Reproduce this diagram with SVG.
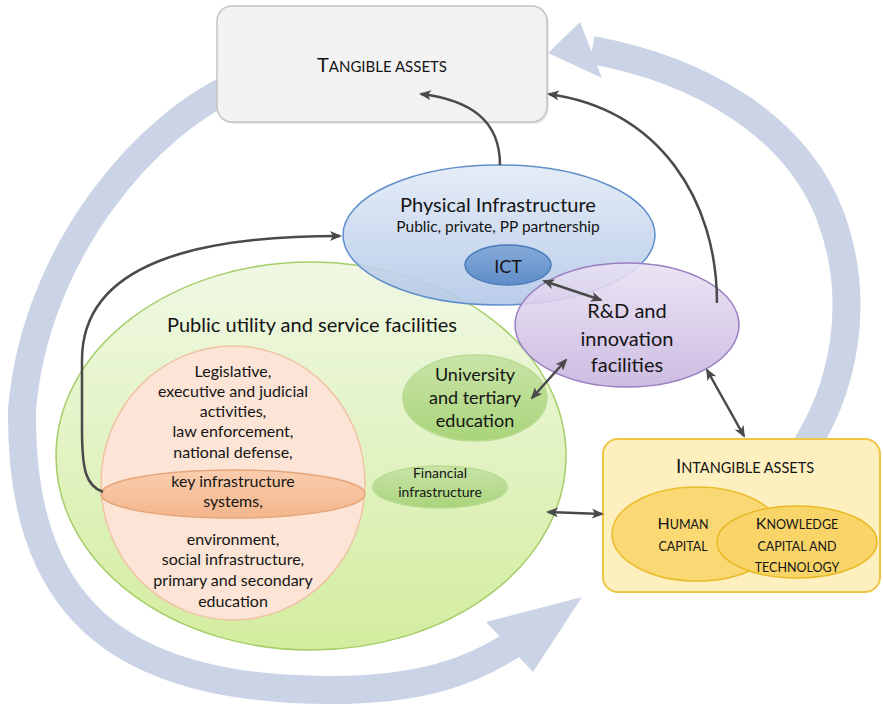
<svg xmlns="http://www.w3.org/2000/svg" width="883" height="708" viewBox="0 0 883 708">
<defs>
<style>
text{font-family:Lato,"Open Sans","Liberation Sans",sans-serif;fill:#151515;text-anchor:middle}
.band{fill:none;stroke:#cbd4e7;stroke-width:28}
.bandhead{fill:#cbd4e7}
.conn{fill:none;stroke:#4a4a4a;stroke-width:2.5}
</style>
<linearGradient id="gPhys" x1="0" y1="0" x2="0" y2="1"><stop offset="0" stop-color="#e2eaf6"/><stop offset="1" stop-color="#b3c8e7"/></linearGradient>
<linearGradient id="gICT" x1="0" y1="0" x2="0" y2="1"><stop offset="0" stop-color="#86abd9"/><stop offset="1" stop-color="#5f8dc9"/></linearGradient>
<linearGradient id="gRD" x1="0" y1="0" x2="0" y2="1"><stop offset="0" stop-color="#e9e1f3"/><stop offset="1" stop-color="#c6b3de"/></linearGradient>
<linearGradient id="gGreen" x1="0" y1="0" x2="0" y2="1"><stop offset="0" stop-color="#f0f8e4"/><stop offset="1" stop-color="#d3ed9f"/></linearGradient>
<linearGradient id="gUni" x1="0" y1="0" x2="0" y2="1"><stop offset="0" stop-color="#c9e4a8"/><stop offset="1" stop-color="#a9d47a"/></linearGradient>
<linearGradient id="gKey" x1="0" y1="0" x2="0" y2="1"><stop offset="0" stop-color="#f9cdae"/><stop offset="1" stop-color="#f4b68c"/></linearGradient>
<marker id="arr" viewBox="0 0 12 10" refX="10" refY="5" markerWidth="12" markerHeight="10" markerUnits="userSpaceOnUse" orient="auto-start-reverse">
<path d="M0,0 L12,5 L0,10 L3,5 z" fill="#4a4a4a"/>
</marker>
</defs>

<g id="cycle">
<path class="band" d="M 240 84 C 150 120, 35 250, 22 410 C 20 600, 110 690, 330 690 C 420 690, 470 672, 512 645"/>
<polygon class="bandhead" points="582,597 486,622 533,672"/>
<path class="band" d="M 800 455 C 845 390, 862 300, 830 215 C 795 125, 700 70, 592 50"/>
<polygon class="bandhead" points="548,53 580,22 602,78"/>
</g>

<g id="tangible">
<rect x="219" y="8" width="330" height="116" rx="15" fill="#dcdcdc" opacity="0.6"/>
<rect x="217" y="6" width="330" height="116" rx="15" fill="#f2f2f2" stroke="#c4c4c4" stroke-width="1.5"/>
<text x="382" y="72" font-size="20">T<tspan font-size="15">ANGIBLE ASSETS</tspan></text>
</g>

<g id="intangible">
<rect x="603" y="439" width="277" height="153" rx="15" fill="#feefbf" stroke="#f0c445" stroke-width="2"/>
<text x="745" y="473" font-size="19">I<tspan font-size="14.5">NTANGIBLE ASSETS</tspan></text>
<g id="human">
<ellipse cx="697" cy="534" rx="85" ry="47" fill="#fad873" stroke="#ebbd2c" stroke-width="1.5"/>
<text x="683" y="529" font-size="16">H<tspan font-size="12.5">UMAN</tspan></text>
<text x="683" y="551" font-size="12.5">CAPITAL</text>
</g>
<g id="knowledge">
<ellipse cx="797" cy="542" rx="80" ry="36" fill="#f9d468" stroke="#e8b923" stroke-width="1.5"/>
<text x="797" y="529" font-size="16">K<tspan font-size="12.5">NOWLEDGE</tspan></text>
<text x="797" y="551" font-size="12.5">CAPITAL AND</text>
<text x="797" y="572" font-size="12.5">TECHNOLOGY</text>
</g>
</g>

<g id="public-utility">
<ellipse cx="311" cy="456" rx="255" ry="194" fill="url(#gGreen)" stroke="#a5ce69" stroke-width="1.5"/>
<text x="312" y="332" font-size="20">Public utility and service facilities</text>
</g>

<g id="government">
<ellipse cx="233" cy="483" rx="132" ry="137" fill="#fce4d6" stroke="#efc3a3" stroke-width="1.5"/>
<ellipse cx="233" cy="494" rx="132" ry="24" fill="url(#gKey)" stroke="#e6a679" stroke-width="1.5"/>
<g font-size="16">
<text x="233" y="377">Legislative,</text>
<text x="233" y="397">executive and judicial</text>
<text x="233" y="417">activities,</text>
<text x="233" y="437">law enforcement,</text>
<text x="233" y="458">national defense,</text>
<text x="233" y="487">key infrastructure</text>
<text x="233" y="507">systems,</text>
<text x="233" y="545">environment,</text>
<text x="233" y="565">social infrastructure,</text>
<text x="233" y="586">primary and secondary</text>
<text x="233" y="607">education</text>
</g>
</g>

<g id="university">
<ellipse cx="475" cy="398" rx="72" ry="43" fill="url(#gUni)" stroke="#b9db92" stroke-width="1.5"/>
<text x="475" y="381" font-size="18">University</text>
<text x="475" y="404" font-size="18">and tertiary</text>
<text x="475" y="427" font-size="18">education</text>
</g>

<g id="financial">
<ellipse cx="440" cy="487" rx="67" ry="21" fill="url(#gUni)" stroke="#b9db92" stroke-width="1.5"/>
<text x="440" y="478" font-size="14">Financial</text>
<text x="440" y="497" font-size="14">infrastructure</text>
</g>

<g id="physical">
<ellipse cx="499" cy="235" rx="156" ry="70" fill="url(#gPhys)" fill-opacity="0.9" stroke="#5f8ecb" stroke-width="1.5"/>
<text x="498" y="212" font-size="20">Physical Infrastructure</text>
<text x="498" y="232" font-size="15.5">Public, private, PP partnership</text>
</g>

<g id="ict">
<ellipse cx="508" cy="265" rx="43" ry="20" fill="url(#gICT)" stroke="#4b7bb9" stroke-width="1.5"/>
<text x="508" y="273" font-size="18">ICT</text>
</g>

<g id="rd">
<ellipse cx="627" cy="325" rx="112" ry="62" fill="url(#gRD)" fill-opacity="0.88" stroke="#9a7fc1" stroke-width="1.5"/>
<text x="627" y="318" font-size="20">R&amp;D and</text>
<text x="627" y="346" font-size="20">innovation</text>
<text x="627" y="372" font-size="20">facilities</text>
</g>

<g id="connectors">
<path class="conn" marker-end="url(#arr)" d="M 500 165 C 500 120, 470 100, 421 94"/>
<path class="conn" marker-end="url(#arr)" d="M 717 303 C 717 200, 660 110, 549 94"/>
<path class="conn" marker-end="url(#arr)" d="M 103 492 C 86 486, 82 470, 82 430 L 82 360 C 82 262, 200 236, 340 236"/>
<path class="conn" marker-start="url(#arr)" marker-end="url(#arr)" d="M 544 281 L 601 300"/>
<path class="conn" marker-start="url(#arr)" marker-end="url(#arr)" d="M 532 398 L 566 360"/>
<path class="conn" marker-start="url(#arr)" marker-end="url(#arr)" d="M 707 370 L 744 436"/>
<path class="conn" marker-start="url(#arr)" marker-end="url(#arr)" d="M 548 512 L 602 514"/>
</g>
</svg>
